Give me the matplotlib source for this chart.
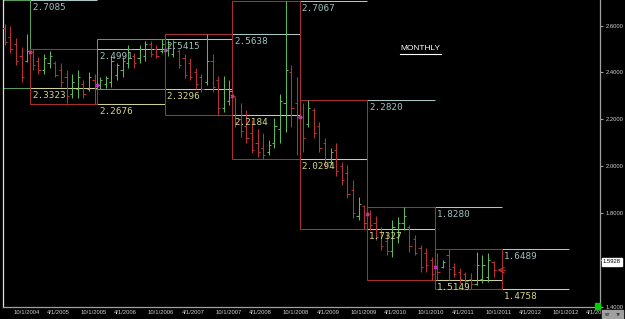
import numpy as np
import pandas as pd
import matplotlib
matplotlib.use("Agg")
import matplotlib.pyplot as plt
from matplotlib.patches import Rectangle
from matplotlib.lines import Line2D

# monthly OHLC, Aug 2004 .. Nov 2011
first_month = "2004-08"
opens = [2.59, 2.55, 2.52, 2.47, 2.45,
         2.488, 2.45, 2.41, 2.44, 2.44, 2.41, 2.38, 2.31, 2.33, 2.35, 2.33, 2.37,
         2.346, 2.35, 2.36, 2.39, 2.41, 2.44, 2.47, 2.46, 2.47, 2.52, 2.50, 2.49,
         2.496, 2.48, 2.49, 2.46, 2.44, 2.40, 2.38, 2.36, 2.45, 2.37, 2.25, 2.28,
         2.298, 2.20, 2.17, 2.14, 2.10, 2.08, 2.06, 2.10, 2.16, 2.27, 2.40, 2.27,
         2.208, 2.18, 2.24, 2.17, 2.10, 2.02, 2.07, 2.00, 1.97, 1.90, 1.79, 1.83,
         1.796, 1.76, 1.72, 1.68, 1.64, 1.70, 1.76, 1.74, 1.69, 1.65, 1.63, 1.60,
         1.570, 1.57, 1.62, 1.57, 1.55, 1.54, 1.52, 1.50, 1.52, 1.53, 1.59]
highs = [2.608, 2.60, 2.545, 2.51, 2.566,
         2.499, 2.464, 2.48, 2.49, 2.45, 2.44, 2.41, 2.395, 2.41, 2.366, 2.40, 2.395,
         2.38, 2.387, 2.47, 2.44, 2.464, 2.515, 2.485, 2.515, 2.536, 2.536, 2.515, 2.5415,
         2.54, 2.54, 2.50, 2.48, 2.46, 2.42, 2.395, 2.5638, 2.48, 2.387, 2.387, 2.366,
         2.294, 2.268, 2.238, 2.196, 2.16, 2.14, 2.11, 2.204, 2.31, 2.7067, 2.43, 2.38,
         2.27, 2.282, 2.25, 2.187, 2.12, 2.08, 2.098, 2.017, 2.004, 1.94, 1.868, 1.834,
         1.813, 1.79, 1.74, 1.72, 1.77, 1.783, 1.828, 1.749, 1.706, 1.664, 1.651, 1.613,
         1.63, 1.60, 1.6489, 1.587, 1.566, 1.549, 1.545, 1.634, 1.62, 1.63, 1.595]
lows = [2.515, 2.485, 2.43, 2.36, 2.443,
        2.41, 2.395, 2.395, 2.42, 2.38, 2.34, 2.27, 2.29, 2.29, 2.29, 2.32, 2.2676,
        2.3296, 2.335, 2.336, 2.366, 2.38, 2.417, 2.42, 2.44, 2.45, 2.464, 2.46, 2.485,
        2.47, 2.464, 2.417, 2.375, 2.366, 2.33, 2.315, 2.345, 2.315, 2.2184, 2.23, 2.26,
        2.166, 2.123, 2.098, 2.055, 2.04, 2.0294, 2.047, 2.08, 2.10, 2.145, 2.166, 2.047,
        2.06, 2.166, 2.12, 2.06, 1.996, 2.004, 1.96, 1.92, 1.864, 1.78, 1.77, 1.7327,
        1.727, 1.685, 1.642, 1.62, 1.613, 1.672, 1.727, 1.634, 1.62, 1.55, 1.55, 1.5149,
        1.515, 1.566, 1.515, 1.528, 1.502, 1.494, 1.4758, 1.494, 1.502, 1.506, 1.53]
closes = [2.53, 2.50, 2.45, 2.38, 2.49,
          2.43, 2.41, 2.46, 2.47, 2.39, 2.36, 2.30, 2.36, 2.38, 2.31, 2.38, 2.33,
          2.37, 2.375, 2.45, 2.43, 2.45, 2.50, 2.44, 2.50, 2.52, 2.48, 2.47, 2.52,
          2.52, 2.53, 2.43, 2.39, 2.38, 2.35, 2.33, 2.45, 2.34, 2.25, 2.33, 2.32,
          2.19, 2.15, 2.12, 2.07, 2.06, 2.05, 2.09, 2.17, 2.28, 2.41, 2.25, 2.21,
          2.12, 2.25, 2.14, 2.08, 2.01, 2.06, 1.98, 1.94, 1.88, 1.80, 1.84, 1.76,
          1.75, 1.70, 1.66, 1.64, 1.74, 1.76, 1.79, 1.66, 1.63, 1.57, 1.58, 1.54,
          1.55, 1.59, 1.56, 1.54, 1.52, 1.51, 1.50, 1.58, 1.58, 1.60, 1.557]

# yearly ranges
years = [2004, 2005, 2006, 2007, 2008, 2009, 2010, 2011]
year_high = [2.7085, 2.4991, 2.5415, 2.5638, 2.7067, 2.2820, 1.8280, 1.6489]
year_low = [2.3323, 2.2676, 2.3296, 2.2184, 2.0294, 1.7327, 1.5149, 1.4758]
year_up = [True, False, True, False, False, False, False, False]

last_price = 1.5928
date_ticks = ["2004-10", "2005-04", "2005-10", "2006-04", "2006-10", "2007-04",
              "2007-10", "2008-04", "2008-10", "2009-04", "2009-10", "2010-04",
              "2010-10", "2011-04", "2011-10", "2012-04", "2012-10", "2013-04"]
price_ticks = [1.4, 1.6, 1.8, 2.0, 2.2, 2.4, 2.6]

RED = "#b83232"
GREEN = "#5cb85c"
BOX_RED = "#a83030"
BOX_GREEN = "#5a9e5a"
HI = "#a8c8c8"
LO = "#cfcf96"
LW = 0.75

base = pd.Period("2004-01", "M")


def midx(s):
    return (pd.Period(s, "M") - base).n


fig = plt.figure(figsize=(6.25, 3.19), dpi=100, facecolor="black")
ax = fig.add_axes([3 / 625, 12 / 319, 597 / 625, 307 / 319], facecolor="black")

# year boxes and the next-year high/low lines
for i, y in enumerate(years):
    m0 = (y - 2004) * 12
    ec = BOX_GREEN if year_up[i] else BOX_RED
    ax.add_patch(Rectangle((m0, year_low[i]), 12, year_high[i] - year_low[i],
                           fill=False, ec=ec, lw=LW, zorder=2))
    ax.hlines(year_high[i], m0 + 12, m0 + 24, color=HI, lw=LW, zorder=1)
    ax.hlines(year_low[i], m0 + 12, m0 + 24, color=LO, lw=LW, zorder=1)
    ax.annotate("%.4f" % year_high[i], xy=(m0 + 12, year_high[i]), xytext=(2, -3),
                textcoords="offset pixels", va="top", ha="left", color="#9fc0c0",
                fontsize=6.7, family="DejaVu Sans Mono", zorder=4)
    ax.annotate("%.4f" % year_low[i], xy=(m0 + 12, year_low[i]), xytext=(2, -3),
                textcoords="offset pixels", va="top", ha="left", color="#d6d68a",
                fontsize=6.7, family="DejaVu Sans Mono", zorder=4)

# monthly bars
o = np.array(opens)
h = np.array(highs)
l = np.array(lows)
c = np.array(closes)
x = midx(first_month) + np.arange(len(o)) + 0.5
col = np.where(c >= o, GREEN, RED)
ax.vlines(x, l, h, colors=col, lw=LW, zorder=3)
ax.hlines(o, x - 0.4, x, colors=col, lw=LW, zorder=3)
ax.hlines(c, x, x + 0.4, colors=col, lw=LW, zorder=3)

# year open markers
jan = np.array([midx("%d-01" % y) for y in years[1:]])
jan_i = jan - midx(first_month)
ax.scatter(jan, o[jan_i], marker="x", s=6, color="#c040c0", lw=0.8, zorder=4)

# arrow at last bar
ax.annotate("", xy=(x[-1] + 0.2, c[-1]), xytext=(x[-1] + 2.6, c[-1]),
            arrowprops=dict(arrowstyle="->", color="#d03030", lw=0.8), zorder=5)

ax.set_xlim(7.195, 113.44)
ax.set_ylim(1.4, 2.709)

ax.set_xticks([midx(d) for d in date_ticks])
ax.set_xticklabels([pd.Period(d, "M").strftime("%m/1/%Y").lstrip("0") for d in date_ticks],
                   ha="left", fontsize=4.2, color="#d0d0d0", family="Liberation Sans")
ax.tick_params(axis="x", length=0, pad=2.5)
ax.yaxis.tick_right()
ax.set_yticks(price_ticks)
ax.set_yticklabels(["" if abs(p - 1.6) < 1e-9 else "%.4f" % p for p in price_ticks],
                   fontsize=4.2, color="#d0d0d0", family="Liberation Sans")
ax.tick_params(axis="y", length=2, color="#a0a0a0", pad=2)

ax.spines["top"].set_visible(False)
ax.spines["left"].set_color("#e0e0e0")
ax.spines["bottom"].set_color("#a0a0a0")
ax.spines["right"].set_color("#a0a0a0")
for s in ["left", "bottom", "right"]:
    ax.spines[s].set_linewidth(0.9)

# last price box
ax.annotate("%.4f" % last_price, xy=(1.0, last_price), xycoords=("axes fraction", "data"),
            xytext=(3, 0), textcoords="offset pixels", va="center", ha="left",
            fontsize=4.2, color="black", zorder=6, annotation_clip=False,
            family="Liberation Sans",
            bbox=dict(boxstyle="square,pad=0.25", fc="white", ec="white"))

# title
fig.text(400 / 625, 1 - 49 / 319, "MONTHLY", color="white", fontsize=6,
         family="Liberation Sans", va="center", ha="left")
fig.add_artist(Line2D([400 / 625, 441 / 625], [1 - 54 / 319] * 2, color="white", lw=0.8))

# little platform widgets
fig.add_artist(Rectangle((595 / 625, 10 / 319), 5 / 625, 6 / 319, color="#00d000",
                         transform=fig.transFigure))
for k, t in enumerate(["ST", "TF"]):
    fig.add_artist(Rectangle(((602 + 11 * k) / 625, 0), 10 / 625, 9 / 319, color="#a0a0a0",
                             transform=fig.transFigure))
    fig.text((607 + 11 * k) / 625, 4.5 / 319, t, fontsize=3.2, color="black",
             ha="center", va="center")

fig.savefig("out.png", dpi=100, facecolor="black")
